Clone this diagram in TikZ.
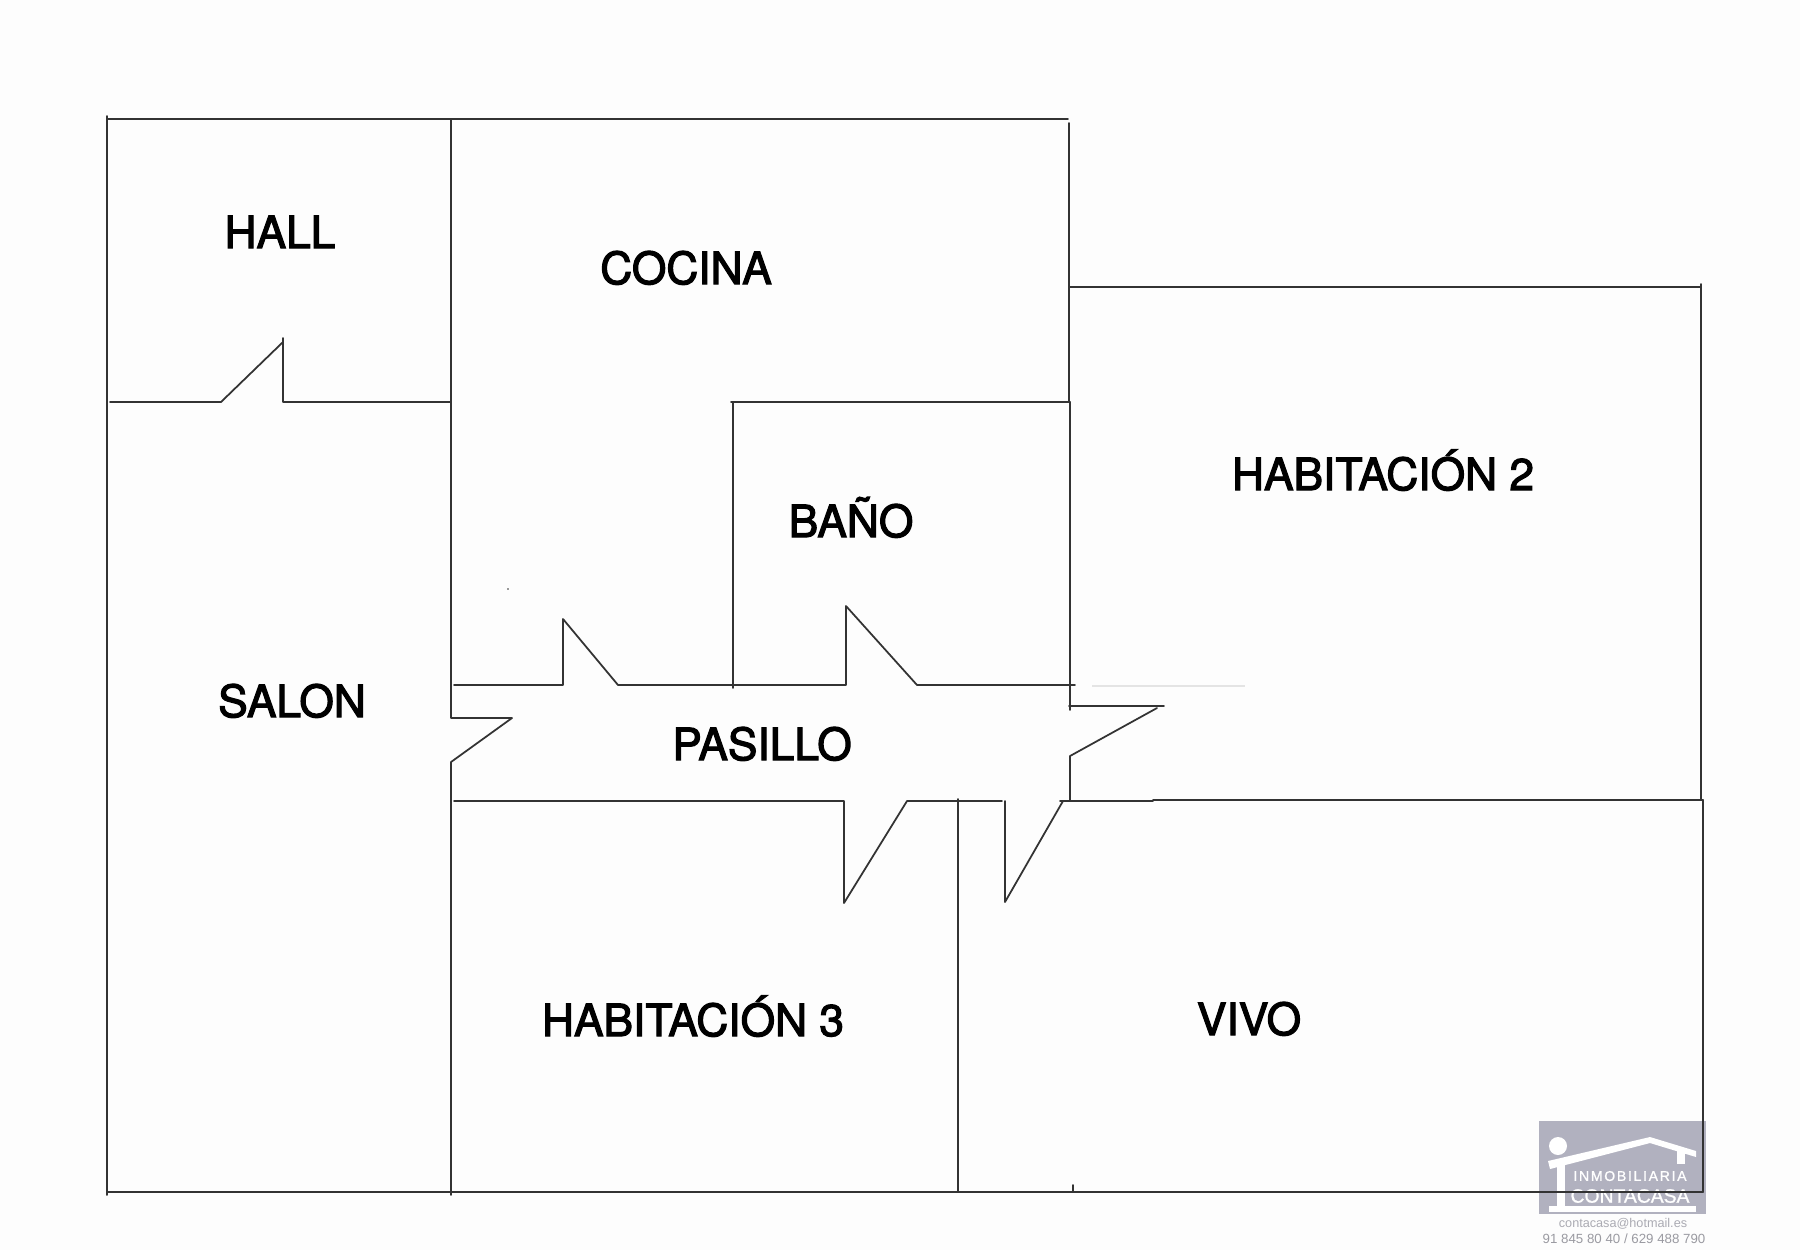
\documentclass[tikz,border=0pt]{standalone}
\usepackage{fontspec}
\setmainfont{Liberation Sans}
\newfontfamily\roomfont[FakeBold=2.6]{TeX Gyre Heros}
\newfontfamily\logofont[LetterSpace=12,FakeBold=1]{Liberation Sans}
\newfontfamily\contafont[FakeBold=1]{Liberation Sans}
\definecolor{paper}{HTML}{FDFDFD}
\definecolor{wallink}{HTML}{333333}
\definecolor{logogray}{HTML}{B1B1BF}
\definecolor{maildark}{HTML}{ABABB3}
\definecolor{faintwall}{HTML}{E4E4E4}
\tikzset{
	wall/.style={draw=wallink, line width=0.5pt, line join=round, line cap=round},
	room/.style={font=\roomfont\fontsize{12.6}{14}\selectfont, text=black, inner sep=0pt, anchor=base},
	logotext/.style={text=white, inner sep=0pt},
	contact/.style={text=maildark, inner sep=0pt},
}
\begin{document}
\begin{tikzpicture}[x=0.01cm, y=-0.01cm]
	\fill[paper] (0,0) rectangle (1800,1250);
	\useasboundingbox (0,0) rectangle (1800,1250);
	% logo
	\fill[logogray] (1539,1121) rectangle (1706,1214);
	\fill[white] (1558,1146) circle (9);
	\fill[white] (1548,1161) -- (1650,1137) -- (1696,1151) -- (1696,1157) -- (1650,1143) -- (1550,1169) -- cycle;
	\fill[white] (1677,1150) rectangle (1685,1164);
	\fill[white] (1557,1165) rectangle (1565,1207);
	\fill[white] (1549,1206) rectangle (1696,1212);
	\node[logotext, font=\logofont\fontsize{4.0}{5}\selectfont] (inmo) at (1630,1176) {INMOBILIARIA};
	\node[logotext, font=\contafont\fontsize{5.5}{6}\selectfont] (conta) at (1630,1196) {CONTACASA};
	\node[contact, font=\fontsize{3.6}{4}\selectfont] (mail) at (1623,1224) {contacasa@hotmail.es};
	\node[contact, font=\fontsize{3.78}{4}\selectfont, text=maildark!90!black] (tel) at (1624,1239) {91 845 80 40 / 629 488 790};
	% outer walls
	\draw[wall] (107,116)--(107,1195);
	\draw[wall] (107,119)--(1068,119);
	\draw[wall] (107,1192)--(1703,1192);
	\draw[wall] (1069,123)--(1069,402);
	\draw[wall] (1069,287)--(1701,287);
	\draw[wall] (1701,284)--(1701,800)--(1703,800)--(1703,1192);
	% hall and door
	\draw[wall] (110,402)--(221,402)--(283,342);
	\draw[wall] (283,338)--(283,402)--(451,402);
	% inner walls
	\draw[wall] (451,119)--(451,718)--(512,718)--(451,762)--(451,1195);
	\draw[wall] (731,402)--(1070,402);
	\draw[wall] (733,402)--(733,688);
	\draw[wall] (1070,402)--(1070,710);
	\draw[wall] (958,799)--(958,1192);
	\draw[wall] (1073,1185)--(1073,1192);
	% corridor top
	\draw[wall] (454,685)--(563,685)--(563,619)--(618,685)--(846,685)--(846,606)--(917,685)--(1075,685);
	\draw[faintwall, line width=0.4pt] (1092,686)--(1245,686);
	% corridor right
	\draw[wall] (1069,706)--(1164,706);
	\draw[wall] (1157,708)--(1070,756)--(1070,801);
	% corridor bottom
	\draw[wall] (454,801)--(844,801)--(844,903)--(907,801)--(1002,801);
	\draw[wall] (1005,801)--(1005,902)--(1063,801);
	\draw[wall] (1060,801)--(1153,801);
	\draw[wall] (1153,800)--(1703,800);
	% rooms
	\node[room] (hall) at (280,248) {HALL};
	\node[room] (cocina) at (686,284) {COCINA};
	\node[room] (bano) at (851,537) {BAÑO};
	\node[room] (hab2) at (1383,490) {HABITACIÓN 2};
	\node[room] (salon) at (292,717) {SALON};
	\node[room] (pasillo) at (762,760) {PASILLO};
	\node[room] (hab3) at (693,1036) {HABITACIÓN 3};
	\node[room] (vivo) at (1249,1035) {VIVO};
	\fill[wallink] (508,589) circle (0.9);
\end{tikzpicture}
\end{document}
